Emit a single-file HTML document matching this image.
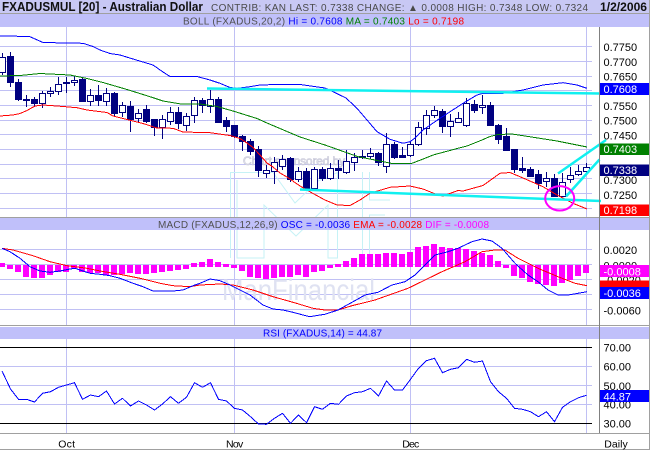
<!DOCTYPE html>
<html><head><meta charset="utf-8"><style>
html,body{margin:0;padding:0;background:#fff;}
svg{display:block;}
text{font-family:"Liberation Sans",Arial,sans-serif;}
</style></head><body>
<svg width="650" height="450" viewBox="0 0 650 450" xmlns="http://www.w3.org/2000/svg">
<rect x="0" y="0" width="650" height="450" fill="#fff"/>

<!-- grid -->
<g stroke="#c0c0f4" stroke-width="1" shape-rendering="crispEdges">
<path d="M0 46.5H592M0 61.5H592M0 76.5H592M0 90.5H592M0 105.5H592M0 120.5H592M0 134.5H592M0 149.5H592M0 164.5H592M0 178.5H592M0 193.5H592M0 208.5H592"/>
<path d="M0 249.5H592M0 264.5H592M0 279.5H592M0 294.5H592M0 309.5H592"/>
<path d="M0 366.5H592M0 385.5H592M0 404.5H592"/>
<path d="M66.5 27V217M234.5 27V217M410.5 27V217M586.5 27V217"/>
<path d="M66.5 230V325M234.5 230V325M410.5 230V325M586.5 230V325"/>
<path d="M66.5 339V433M234.5 339V433M410.5 339V433M586.5 339V433"/>
</g>
<g stroke="#000" stroke-width="1" shape-rendering="crispEdges">
<path d="M0 347.5H592M0 423.5H592"/>
</g>

<!-- watermarks -->
<g fill="none" stroke="#c6f2f6" stroke-width="1">
<path d="M230.5 258V172.5H273L295 203L318 181L337.5 172.5V258H328V205L296 236L264 205V258H237V180"/>
<path d="M362.5 172V258H369.5V215H385M369.5 172V200H390"/>
</g>
<text x="243" y="165" font-size="12" fill="#ececf4" stroke="#c4c4d6" stroke-width="0.6" textLength="102" lengthAdjust="spacing">Chart sponsored by</text>
<text x="222" y="300" font-size="30" fill="#dfe2f2" textLength="153" lengthAdjust="spacingAndGlyphs">ManFinancial</text>

<!-- header bars -->
<rect x="0" y="0" width="650" height="13" fill="#c8c8f4"/>
<rect x="0" y="13" width="650" height="1" fill="#a0a0a0"/>
<rect x="0" y="14" width="650" height="13" fill="#c0c0fa"/>
<rect x="0" y="217" width="650" height="1" fill="#a0a0a0"/>
<rect x="0" y="218" width="650" height="12" fill="#c0c0fa"/>
<rect x="0" y="325" width="650" height="1" fill="#a0a0a0"/>
<rect x="0" y="326" width="650" height="1" fill="#fff"/>
<rect x="0" y="327" width="650" height="12" fill="#c0c0fa"/>
<rect x="0" y="433" width="650" height="1" fill="#a0a0a0"/>
<rect x="0" y="449" width="650" height="1" fill="#a0a0a0"/>

<text x="2" y="11" font-size="12.5" font-weight="bold" fill="#101010" textLength="201" lengthAdjust="spacingAndGlyphs">FXADUSMUL [20] - Australian Dollar</text>
<text x="211" y="11" font-size="10" fill="#4a4a4a" textLength="377" lengthAdjust="spacing">CONTRIB: KAN  LAST: 0.7338 CHANGE: ▲ 0.0008 HIGH: 0.7348 LOW: 0.7324</text>
<text x="600" y="11" font-size="11.5" font-weight="bold" fill="#101010" textLength="47" lengthAdjust="spacingAndGlyphs">1/2/2006</text>

<text x="183" y="24.5" font-size="10" textLength="281" lengthAdjust="spacing"><tspan fill="#505050">BOLL (FXADUS,20,2) </tspan><tspan fill="#0000ff">Hi = 0.7608 </tspan><tspan fill="#008000">MA = 0.7403 </tspan><tspan fill="#ff0000">Lo = 0.7198</tspan></text>
<text x="158" y="228" font-size="10" textLength="331" lengthAdjust="spacing"><tspan fill="#505050">MACD (FXADUS,12,26,9) </tspan><tspan fill="#0000ff">OSC = -0.0036 </tspan><tspan fill="#ff0000">EMA = -0.0028 </tspan><tspan fill="#ff00ff">DIF = -0.0008</tspan></text>
<text x="263" y="336.5" font-size="10" fill="#0000ff" textLength="119" lengthAdjust="spacing">RSI (FXADUS,14) = 44.87</text>

<!-- candles -->
<path fill="none" stroke="#000080" stroke-width="1" shape-rendering="crispEdges" d="M2.5 53V75M10.5 52V87M18.5 79V101M26.5 95V107M34.5 97V107M42.5 91V108M50.5 87V97M58.5 77V95M66.5 77V93M74.5 76V86M82.5 78V102M90.5 89V106M98.5 85V106M106.5 88V106M114.5 92V117M122.5 102V117M130.5 101V132M138.5 109V123M146.5 105V123M154.5 119V136M162.5 115V139M170.5 107V125M178.5 107V129M186.5 113V131M194.5 97V123M202.5 98V113M210.5 90V113M218.5 97V123M226.5 117V132M234.5 125V138M242.5 135V151M250.5 139V155M258.5 146V177M266.5 165V178M274.5 157V184M282.5 155V170M290.5 157V182M298.5 167V182M306.5 168V190M314.5 167V190M322.5 167V181M330.5 163V180M338.5 160V179M346.5 150V174M354.5 153V171M362.5 150V159M370.5 148V159M378.5 152V166M386.5 133V173M394.5 142V159M402.5 147V158M410.5 142V157M418.5 122V146M426.5 110V135M434.5 106V118M442.5 109V133M450.5 114V137M458.5 112V123M466.5 98V127M474.5 100V113M482.5 95V114M490.5 102V126M498.5 124V144M506.5 128V151M514.5 149V173M522.5 157V173M530.5 167V177M538.5 170V189M546.5 172V187M554.5 174V197M562.5 173V197M570.5 167V183M578.5 165V176M586.5 163V173"/>
<g fill="#000080" shape-rendering="crispEdges">
<rect x="7" y="56" width="7" height="27"/><rect x="15" y="82" width="7" height="18"/><rect x="31" y="99" width="7" height="5"/><rect x="79" y="79" width="7" height="23"/><rect x="95" y="95" width="7" height="6"/><rect x="111" y="93" width="7" height="21"/><rect x="127" y="106" width="7" height="14"/><rect x="143" y="109" width="7" height="13"/><rect x="151" y="119" width="7" height="9"/><rect x="175" y="112" width="7" height="12"/><rect x="199" y="100" width="7" height="6"/><rect x="215" y="99" width="7" height="24"/><rect x="223" y="120" width="7" height="7"/><rect x="231" y="125" width="7" height="12"/><rect x="239" y="136" width="7" height="6"/><rect x="247" y="141" width="7" height="11"/><rect x="255" y="149" width="7" height="22"/><rect x="287" y="158" width="7" height="22"/><rect x="303" y="171" width="7" height="18"/><rect x="319" y="169" width="7" height="10"/><rect x="335" y="168" width="7" height="3"/><rect x="375" y="153" width="7" height="10"/><rect x="391" y="144" width="7" height="14"/><rect x="399" y="155" width="7" height="3"/><rect x="439" y="111" width="7" height="16"/><rect x="471" y="104" width="7" height="7"/><rect x="487" y="105" width="7" height="21"/><rect x="495" y="125" width="7" height="15"/><rect x="503" y="136" width="7" height="15"/><rect x="511" y="149" width="7" height="21"/><rect x="519" y="168" width="7" height="3"/><rect x="527" y="169" width="7" height="8"/><rect x="535" y="174" width="7" height="10"/><rect x="551" y="178" width="7" height="19"/>
</g>
<g fill="#fff" stroke="#000080" stroke-width="1" shape-rendering="crispEdges">
<rect x="-0.5" y="57.5" width="6" height="15"/><rect x="23.5" y="99.5" width="6" height="1"/><rect x="39.5" y="93.5" width="6" height="10"/><rect x="47.5" y="91.5" width="6" height="2"/><rect x="55.5" y="84.5" width="6" height="7"/><rect x="63.5" y="82.5" width="6" height="1"/><rect x="71.5" y="80.5" width="6" height="2"/><rect x="87.5" y="95.5" width="6" height="6"/><rect x="103.5" y="93.5" width="6" height="8"/><rect x="119.5" y="105.5" width="6" height="7"/><rect x="135.5" y="113.5" width="6" height="5"/><rect x="159.5" y="119.5" width="6" height="8"/><rect x="167.5" y="112.5" width="6" height="9"/><rect x="183.5" y="116.5" width="6" height="9"/><rect x="191.5" y="100.5" width="6" height="15"/><rect x="207.5" y="99.5" width="6" height="7"/><rect x="263.5" y="170.5" width="6" height="3"/><rect x="271.5" y="162.5" width="6" height="9"/><rect x="279.5" y="159.5" width="6" height="7"/><rect x="295.5" y="171.5" width="6" height="8"/><rect x="311.5" y="169.5" width="6" height="19"/><rect x="327.5" y="168.5" width="6" height="10"/><rect x="343.5" y="161.5" width="6" height="11"/><rect x="351.5" y="157.5" width="6" height="5"/><rect x="359.5" y="156.5" width="6" height="1"/><rect x="367.5" y="153.5" width="6" height="3"/><rect x="383.5" y="144.5" width="6" height="22"/><rect x="407.5" y="144.5" width="6" height="11"/><rect x="415.5" y="127.5" width="6" height="17"/><rect x="423.5" y="115.5" width="6" height="13"/><rect x="431.5" y="110.5" width="6" height="5"/><rect x="447.5" y="121.5" width="6" height="5"/><rect x="455.5" y="118.5" width="6" height="4"/><rect x="463.5" y="103.5" width="6" height="22"/><rect x="479.5" y="105.5" width="6" height="2"/><rect x="543.5" y="178.5" width="6" height="3"/><rect x="559.5" y="182.5" width="6" height="14"/><rect x="567.5" y="175.5" width="6" height="4"/><rect x="575.5" y="171.5" width="6" height="3"/><rect x="583.5" y="167.5" width="6" height="4"/>
</g>

<!-- bollinger -->
<g fill="none" stroke-width="1" shape-rendering="crispEdges">
<polyline stroke="#0000ff" points="0,36 20,36.3 30,36.7 43,42.5 83,43.3 93,46.5 100,50 110,53.5 120,55 133,59 153,65 163,72 170,76.5 197,76.5 210,80 220,83.3 230,87.5 237,88.3 250,86.7 260,85 277,84.5 300,84.5 325,88 333,91.7 346,98 357,108.3 367,120 377,131.7 390,139.3 403,143.3 410,141.7 415,138 423,130 440,118.3 463,103.3 477,95 483,93.3 503,93.3 523,90 543,85 563,82.7 577,85 587,88.3"/>
<polyline stroke="#008000" points="0,76 20,75.5 40,73.5 50,74 70,75 87,78.5 103,82.5 127,89.5 150,96.7 163,101 180,103.8 200,104 217,106.5 233,111 257,118.5 267,123 300,137 325,145 358,156.7 375,160 392,163.5 412,163.3 425,158.3 433,155 458,148.3 467,146 482,140 490,136.5 498,134.5 512,134 525,136 557,141 587,147"/>
<polyline stroke="#ff0000" points="0,116 13,115 20,113.5 27,110.5 35,106 43,105 57,106 77,107.7 87,110 107,112.5 113,116 127,119.5 143,123.5 157,128 173,128.3 183,132 210,132.7 230,135.5 240,138.5 247,143 253,147.5 260,155 267,163 273,167 280,173 287,177 300,186 313,193.5 325,200 337,205 350,205.5 360,200 370,193.3 390,187.3 410,186 423,189 438,195 443,196 458,190.5 463,191 483,185.5 500,173.3 510,172.5 523,178 543,186.7 557,195 573,203.3 587,209"/>
</g>

<!-- trend lines -->
<g stroke="#10f0f0" stroke-width="2.5" fill="none">
<line x1="207" y1="88.5" x2="600" y2="93.5"/>
<line x1="300" y1="189.5" x2="601" y2="201"/>
<line x1="558" y1="173.5" x2="606" y2="140"/>
<line x1="566" y1="196.5" x2="599.5" y2="159.5"/>
</g>
<ellipse cx="559.7" cy="198.3" rx="14.5" ry="12.2" fill="none" stroke="#ff00ff" stroke-width="2"/>

<!-- MACD histogram -->
<g fill="#ff00ff" shape-rendering="crispEdges">
<rect x="-1" y="263" width="6" height="4"/><rect x="7" y="265" width="6" height="4"/><rect x="15" y="265" width="6" height="7"/><rect x="23" y="265" width="6" height="12"/><rect x="31" y="265" width="6" height="13"/><rect x="39" y="265" width="6" height="13"/><rect x="47" y="265" width="6" height="10"/><rect x="55" y="265" width="6" height="7"/><rect x="63" y="265" width="6" height="7"/><rect x="71" y="265" width="6" height="3"/><rect x="79" y="265" width="6" height="7"/><rect x="87" y="265" width="6" height="8"/><rect x="95" y="265" width="6" height="8"/><rect x="103" y="265" width="6" height="10"/><rect x="111" y="265" width="6" height="10"/><rect x="119" y="265" width="6" height="9"/><rect x="127" y="265" width="6" height="8"/><rect x="135" y="265" width="6" height="9"/><rect x="143" y="265" width="6" height="9"/><rect x="151" y="265" width="6" height="8"/><rect x="159" y="265" width="6" height="7"/><rect x="167" y="265" width="6" height="6"/><rect x="175" y="265" width="6" height="5"/><rect x="183" y="265" width="6" height="4"/><rect x="191" y="263" width="6" height="4"/><rect x="199" y="262" width="6" height="5"/><rect x="207" y="259" width="6" height="8"/><rect x="215" y="262" width="6" height="5"/><rect x="223" y="264" width="6" height="3"/><rect x="231" y="265" width="6" height="3"/><rect x="239" y="265" width="6" height="6"/><rect x="247" y="265" width="6" height="12"/><rect x="255" y="265" width="6" height="13"/><rect x="263" y="265" width="6" height="14"/><rect x="271" y="265" width="6" height="13"/><rect x="279" y="265" width="6" height="12"/><rect x="287" y="265" width="6" height="12"/><rect x="295" y="265" width="6" height="10"/><rect x="303" y="265" width="6" height="12"/><rect x="311" y="265" width="6" height="7"/><rect x="319" y="265" width="6" height="6"/><rect x="327" y="265" width="6" height="3"/><rect x="335" y="264" width="6" height="3"/><rect x="343" y="261" width="6" height="6"/><rect x="351" y="258" width="6" height="9"/><rect x="359" y="254" width="6" height="13"/><rect x="367" y="254" width="6" height="13"/><rect x="375" y="254" width="6" height="13"/><rect x="383" y="253" width="6" height="14"/><rect x="391" y="253" width="6" height="14"/><rect x="399" y="254" width="6" height="13"/><rect x="407" y="252" width="6" height="15"/><rect x="415" y="247" width="6" height="20"/><rect x="423" y="246" width="6" height="21"/><rect x="431" y="244" width="6" height="23"/><rect x="439" y="247" width="6" height="20"/><rect x="447" y="248" width="6" height="19"/><rect x="455" y="248" width="6" height="19"/><rect x="463" y="249" width="6" height="18"/><rect x="471" y="251" width="6" height="16"/><rect x="479" y="253" width="6" height="14"/><rect x="487" y="255" width="6" height="12"/><rect x="495" y="261" width="6" height="6"/><rect x="503" y="265" width="6" height="3"/><rect x="511" y="265" width="6" height="11"/><rect x="519" y="265" width="6" height="13"/><rect x="527" y="265" width="6" height="17"/><rect x="535" y="265" width="6" height="19"/><rect x="543" y="265" width="6" height="20"/><rect x="551" y="265" width="6" height="21"/><rect x="559" y="265" width="6" height="18"/><rect x="567" y="265" width="6" height="15"/><rect x="575" y="265" width="6" height="11"/><rect x="583" y="265" width="6" height="8"/>
</g>
<g fill="none" stroke-width="1" shape-rendering="crispEdges">
<polyline stroke="#ff0000" points="2,248.3 13,250 33,255.7 50,261.7 67,265.7 87,268.3 100,271 120,274.3 140,278.3 160,283.3 173,285.7 190,286.7 200,285 220,284 233,285 253,290 273,296.7 293,302.3 313,308.3 325,310 338,310 352,305.7 375,300 408,288.3 425,280 442,271.7 465,261.7 482,251.7 495,250 505,250 518,258.3 538,268.3 558,276.7 575,283.3 587,285.7"/>
<polyline stroke="#0000ff" points="2,248.3 10,251.7 20,258.3 30,266.7 40,271 50,272.3 60,271 70,269 75,268.3 80,270 90,273.3 100,274.3 110,275.7 120,278.3 133,283.3 143,286.7 153,291 173,291 183,290 193,285.7 200,283.3 210,279 220,280.7 230,285 240,290 250,295 263,305 273,309 283,310 293,312.3 303,315 310,316.7 320,315 325,314.3 338,310 352,302.3 365,295 378,292.3 392,285 405,281.7 415,275 425,265 435,255 448,251.7 458,248.3 472,241.7 482,239 492,241 502,248.3 515,263.3 528,275 538,281.7 548,290 558,295 568,295 578,293.3 587,291.7"/>
<polyline stroke="#0000ff" points="2,371 10.5,389 18.5,399.3 26.5,399.3 34.5,402 42.5,393.3 50.5,391.7 58.5,387.3 66.5,385 74.5,382.7 82.5,399.3 90.5,395 98.5,396.7 106.5,391 114.5,404 122.5,398.3 130.5,406 138.5,401 146.5,405 154.5,410 162.5,404 170.5,396.7 178.5,403.3 186.5,397.3 194.5,382.7 202.5,387.3 210.5,382.7 218.5,399.3 226.5,401 234.5,408.3 242.5,410 250.5,416.7 258.5,424 266.5,424.3 274.5,418.3 282.5,413.3 290.5,423.3 298.5,415 306.5,422.7 314.5,406.7 322.5,409.3 330.5,403.3 338.5,404.3 346.5,396 354.5,392.7 362.5,391.7 370.5,388.3 378.5,396 386.5,381 394.5,390 402.5,390 410.5,379.3 418.5,368.3 426.5,360.7 434.5,358.3 442.5,372.7 450.5,369.3 458.5,367.7 466.5,359.3 474.5,362.3 482.5,361 490.5,381.7 498.5,391.7 506.5,398.3 514.5,408.3 522.5,409.3 530.5,411.7 538.5,416.7 546.5,411.7 554.5,421.7 562.5,407.3 570.5,401.7 578.5,397.7 586.5,395.3"/>
</g>

<!-- right axis -->
<rect x="599" y="27" width="1" height="406" fill="#808080"/>
<rect x="649" y="0" width="1" height="450" fill="#a0a0a0"/>
<g font-size="11" fill="#000">
<text x="603.5" y="51">0.7750</text>
<text x="603.5" y="66">0.7700</text>
<text x="603.5" y="80.7">0.7650</text>
<text x="603.5" y="110.2">0.7550</text>
<text x="603.5" y="124.7">0.7500</text>
<text x="603.5" y="139.5">0.7450</text>
<text x="603.5" y="184">0.7300</text>
<text x="603.5" y="199.2">0.7250</text>
<text x="603.5" y="254">0.0020</text>
<text x="603.5" y="269.3">0.0000</text>
<text x="603.5" y="284">-0.0020</text>
<text x="603.5" y="314.3">-0.0060</text>
<text x="603.5" y="351.7">70.00</text>
<text x="603.5" y="370.7">60.00</text>
<text x="603.5" y="390">50.00</text>
<text x="603.5" y="408.5">40.00</text>
<text x="603.5" y="427.7">30.00</text>
</g>
<rect x="600" y="83" width="49" height="12" fill="#0000ff"/>
<rect x="600" y="143.5" width="49" height="11.5" fill="#008000"/>
<rect x="600" y="164.5" width="49" height="11.5" fill="#000080"/>
<rect x="600" y="204.5" width="49" height="11.5" fill="#ff0000"/>
<rect x="600" y="265" width="49" height="12" fill="#ff00ff"/>
<rect x="600" y="280.5" width="49" height="12" fill="#ff0000"/>
<rect x="600" y="287" width="49" height="12" fill="#0000ff"/>
<rect x="600" y="390" width="49" height="12" fill="#0000ff"/>
<g font-size="11" fill="#fff">
<text x="603.5" y="93">0.7608</text>
<text x="603.5" y="153">0.7403</text>
<text x="603.5" y="174">0.7338</text>
<text x="603.5" y="214">0.7198</text>
<text x="603.5" y="275.5">-0.0008</text>
<text x="603.5" y="297">-0.0036</text>
<text x="603.5" y="400.3">44.87</text>
</g>

<!-- date axis -->
<g font-size="10.5" fill="#000">
<text x="58.3" y="447.3" textLength="16.7" lengthAdjust="spacing">Oct</text>
<text x="226" y="447.3" textLength="17.3" lengthAdjust="spacing">Nov</text>
<text x="402.3" y="447.3" textLength="17" lengthAdjust="spacing">Dec</text>
<text x="604.3" y="447.3" textLength="23.4" lengthAdjust="spacing">Daily</text>
</g>
</svg>
</body></html>
